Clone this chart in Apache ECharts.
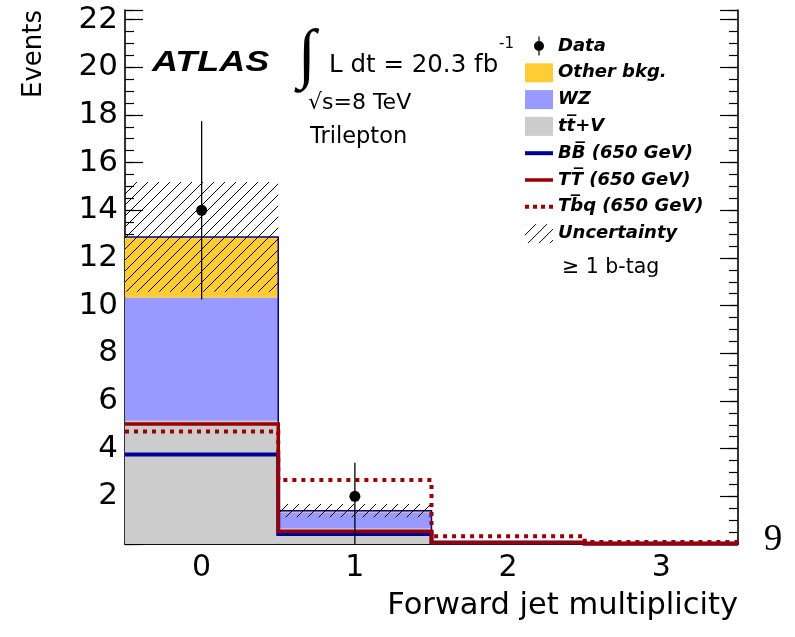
<!DOCTYPE html>
<html><head><meta charset="utf-8">
<script src="https://cdn.jsdelivr.net/npm/echarts@6/dist/echarts.min.js"></script>
<style>html,body{margin:0;padding:0;background:#fff}#c{width:795px;height:637px}</style>
</head><body><div id="c"></div><script>
// ---- data ----
const categories = ['0', '1', '2', '3'];
const ttV = [5.17, 0.65, 0.04, 0.01];
const wz = [5.17, 0.68, 0.02, 0.0];
const otherBkg = [2.54, 0.07, 0.01, 0.0];
const uncertainty = [2.3, 0.28, 0.02, 0.01];
const dataCounts = [14, 2, 0, 0];
const dataErrUp = [3.74, 1.41, 0, 0];
const dataErrDown = [3.74, 2.0, 0, 0];
const sigBB = [3.75, 0.42, 0.06, 0.02];
const sigTT = [5.03, 0.53, 0.05, 0.01];
const sigTbq = [4.72, 2.68, 0.32, 0.08];
const yMajorLabels = [2, 4, 6, 8, 10, 12, 14, 16, 18, 20, 22];

// ---- derived tables ----
const base0 = ttV.map(() => 0);
const base1 = ttV.slice();
const base2 = ttV.map((v, i) => v + wz[i]);
const total = base2.map((v, i) => v + otherBkg[i]);
const layer = (vals, bases) => vals.map((v, i) => [i, bases[i], bases[i] + v]);
const steps = vals => vals.map((v, i) => [i, v]);

function hatchCanvas() {
  const s = 11, cv = document.createElement('canvas');
  cv.width = s; cv.height = s;
  const g = cv.getContext('2d');
  g.strokeStyle = '#000'; g.lineWidth = 1;
  g.beginPath();
  g.moveTo(-1, s + 1); g.lineTo(s + 1, -1);
  g.moveTo(-1, 1); g.lineTo(1, -1);
  g.moveTo(s - 1, s + 1); g.lineTo(s + 1, s - 1);
  g.stroke();
  return cv;
}
const hatch = { image: hatchCanvas(), repeat: 'repeat' };

function renderRect(params, api) {
  const i = api.value(0);
  const lo = api.coord([i, api.value(1)]);
  const hi = api.coord([i, api.value(2)]);
  const w = api.size([1, 0])[0];
  return { type: 'rect', silent: true,
    shape: { x: lo[0] - w / 2, y: hi[1], width: w, height: lo[1] - hi[1] },
    style: { fill: api.visual('color') } };
}
function makeStep(color, width, dash) {
  return function (params, api) {
    if (params.dataIndexInside !== 0) return null;
    const n = params.dataInsideLength;
    const w = api.size([1, 0])[0];
    const pts = [];
    for (let k = 0; k < n; k++) {
      const p = api.coord([api.value(0, k), api.value(1, k)]);
      pts.push([p[0] - w / 2, p[1]]);
      pts.push([p[0] + w / 2, p[1]]);
    }
    return { type: 'polyline', silent: true, shape: { points: pts },
      style: { stroke: color, lineWidth: width, lineDash: dash || null, fill: null, lineCap: 'butt' } };
  };
}
function renderData(params, api) {
  const i = api.value(0), v = api.value(1);
  if (!(v > 0)) return null;
  const c = api.coord([i, v]);
  const top = api.coord([i, v + api.value(2)]);
  const bot = api.coord([i, v - api.value(3)]);
  return { type: 'group', children: [
    { type: 'line', shape: { x1: c[0], y1: top[1], x2: c[0], y2: bot[1] }, style: { stroke: '#000', lineWidth: 1.3 } },
    { type: 'circle', shape: { cx: c[0], cy: c[1], r: 5.5 }, style: { fill: '#000' } }
  ] };
}

const NAVY = '#000099', RED = '#990000';
const ob = 'Other bkg.';
const nTTV = 'tt\u0305+V', nBB = 'BB\u0305 (650 GeV)', nTT = 'TT\u0305 (650 GeV)', nTbq = 'Tb\u0305q (650 GeV)';

const tickStyle = { color: '#000', width: 1.2 };
const lineStyle = { color: '#000', width: 1.6 };
const yMajor = pos => ({ type: 'value', min: 0, max: 22.4, interval: 2, position: pos,
  axisLine: { show: true, lineStyle }, axisTick: { show: true, inside: true, length: 18, lineStyle: tickStyle },
  splitLine: { show: false }, axisLabel: { show: false } });
const yMinor = pos => ({ type: 'value', min: 0, max: 22.4, interval: 0.5, position: pos,
  axisLine: { show: false }, axisTick: { show: true, inside: true, length: 9, lineStyle: tickStyle },
  splitLine: { show: false }, axisLabel: { show: false } });

const yLeft = yMajor('left');
yLeft.axisLabel = { show: true, margin: 7, color: '#000', fontFamily: 'DejaVu Sans', fontSize: 31,
  formatter: v => (yMajorLabels.indexOf(v) >= 0 ? String(v) : '') };
yLeft.name = 'Events';
yLeft.nameLocation = 'end';
yLeft.nameGap = 0;
yLeft.nameRotate = 90;
yLeft.nameTextStyle = { fontFamily: 'DejaVu Sans', fontSize: 26, color: '#000', align: 'right', verticalAlign: 'bottom', padding: [0, 0, 78, 0] };

const option = {
  animation: false,
  backgroundColor: '#fff',
  grid: { left: 125, right: 57, top: 10, bottom: 93 },
  xAxis: [
    { type: 'category', data: categories, position: 'bottom', boundaryGap: true,
      axisLine: { lineStyle }, axisTick: { inside: true, length: 16, alignWithLabel: true, interval: 0, lineStyle: tickStyle },
      axisLabel: { color: '#000', fontFamily: 'DejaVu Sans', fontSize: 30, margin: 9 },
      splitLine: { show: false },
      name: 'Forward jet multiplicity', nameLocation: 'end', nameGap: 0,
      nameTextStyle: { fontFamily: 'DejaVu Sans', fontSize: 30.5, color: '#000', align: 'right', verticalAlign: 'top', padding: [47, 0, 0, 0] } },
    { type: 'category', data: categories, position: 'top', boundaryGap: true,
      axisLine: { lineStyle }, axisTick: { inside: true, length: 16, alignWithLabel: true, interval: 0, lineStyle: tickStyle },
      axisLabel: { show: false }, splitLine: { show: false } }
  ],
  yAxis: [yLeft, yMinor('left'), yMajor('right'), yMinor('right')],
  legend: {
    orient: 'vertical', left: 520, top: 31.5, itemWidth: 28, itemHeight: 19, itemGap: 7.8,
    selectedMode: false, symbolKeepAspect: true,
    textStyle: { fontFamily: 'DejaVu Sans', fontWeight: 'bold', fontStyle: 'italic', fontSize: 18, color: '#000', lineHeight: 19 },
    data: [
      { name: 'Data', icon: 'path://M4.4,0h1.2v19h-1.2zM0,9.5a5,5 0 1,1 10,0a5,5 0 1,1 -10,0z' },
      { name: ob, icon: 'rect' },
      { name: 'WZ', icon: 'rect' },
      { name: nTTV, icon: 'rect' },
      { name: nBB, icon: 'path://M0,0H28V4H0Z' },
      { name: nTT, icon: 'path://M0,0H28V3.5H0Z' },
      { name: nTbq, icon: 'path://M0,0h4v4h-4zM8,0h4v4h-4zM16,0h4v4h-4zM24,0h4v4h-4z' },
      { name: 'Uncertainty', icon: 'rect' }
    ]
  },
  series: [
    { name: nTTV, type: 'custom', renderItem: renderRect, itemStyle: { color: '#cccccc' }, encode: { x: 0, y: [1, 2] }, data: layer(ttV, base0) },
    { name: 'WZ', type: 'custom', renderItem: renderRect, itemStyle: { color: '#9999ff' }, encode: { x: 0, y: [1, 2] }, data: layer(wz, base1) },
    { name: ob, type: 'custom', renderItem: renderRect, itemStyle: { color: '#ffcc33' }, encode: { x: 0, y: [1, 2] }, data: layer(otherBkg, base2) },
    { name: 'total', type: 'custom', renderItem: makeStep(NAVY, 1.5), itemStyle: { color: NAVY }, encode: { x: 0, y: 1 }, data: steps(total) },
    { name: 'Uncertainty', type: 'custom', renderItem: renderRect, itemStyle: { color: hatch }, encode: { x: 0, y: [1, 2] },
      data: total.map((t, i) => [i, t - uncertainty[i], t + uncertainty[i]]) },
    { name: nBB, type: 'custom', renderItem: makeStep(NAVY, 4), itemStyle: { color: NAVY }, encode: { x: 0, y: 1 }, data: steps(sigBB) },
    { name: nTT, type: 'custom', renderItem: makeStep(RED, 3.5), itemStyle: { color: RED }, encode: { x: 0, y: 1 }, data: steps(sigTT) },
    { name: nTbq, type: 'custom', renderItem: makeStep(RED, 4, [4, 5]), itemStyle: { color: RED }, encode: { x: 0, y: 1 }, data: steps(sigTbq) },
    { name: 'Data', type: 'custom', renderItem: renderData, itemStyle: { color: '#000' }, encode: { x: 0, y: 1 },
      data: dataCounts.map((v, i) => [i, v, dataErrUp[i], dataErrDown[i]]) }
  ],
  graphic: [
    { type: 'text', x: 152, y: 62.5, scaleX: 1.24, style: { text: 'ATLAS', fontFamily: 'Liberation Sans', fontWeight: 'bold', fontStyle: 'italic', fontSize: 29, fill: '#000', align: 'left', verticalAlign: 'middle' } },
    { type: 'text', x: 307, y: 58, style: { text: '\u222B', fontFamily: 'DejaVu Sans', fontWeight: 200, fontSize: 66, fill: '#000', align: 'center', verticalAlign: 'middle' } },
    { type: 'text', x: 329, y: 66, style: { text: 'L dt = 20.3 fb', fontFamily: 'DejaVu Sans', fontSize: 24.5, fill: '#000', align: 'left', verticalAlign: 'middle' } },
    { type: 'text', x: 499, y: 44, style: { text: '-1', fontFamily: 'DejaVu Sans', fontSize: 15, fill: '#000', align: 'left', verticalAlign: 'middle' } },
    { type: 'text', x: 308, y: 103.5, style: { text: '\u221As=8 TeV', fontFamily: 'DejaVu Sans', fontSize: 22, fill: '#000', align: 'left', verticalAlign: 'middle' } },
    { type: 'text', x: 310, y: 137, style: { text: 'Trilepton', fontFamily: 'DejaVu Sans', fontSize: 22.5, fill: '#000', align: 'left', verticalAlign: 'middle' } },
    { type: 'text', x: 562, y: 268, style: { text: '\u2265 1 b-tag', fontFamily: 'DejaVu Sans', fontSize: 20.5, fill: '#000', align: 'left', verticalAlign: 'middle' } },
    { type: 'text', x: 773, y: 540, style: { text: '9', fontFamily: 'Liberation Serif', fontSize: 37, fill: '#000', align: 'center', verticalAlign: 'middle' } }
  ]
};
const chart = echarts.init(document.getElementById('c'), null, { renderer: 'canvas' });
chart.setOption(option);
</script></body></html>
